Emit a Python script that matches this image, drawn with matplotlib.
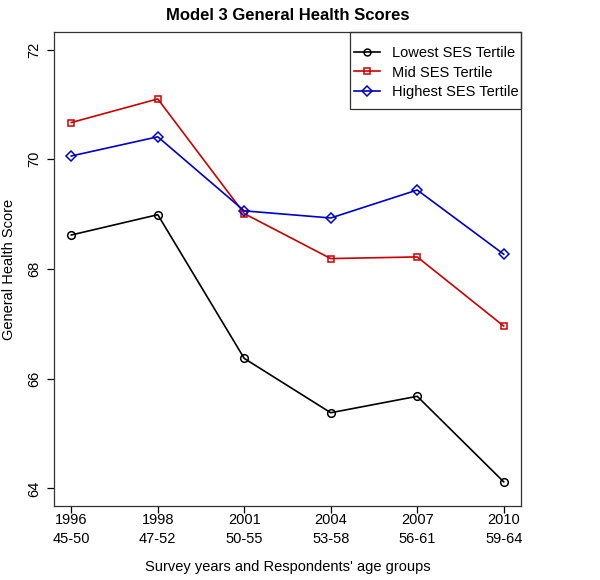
import matplotlib.pyplot as plt
from matplotlib.patches import Rectangle

plt.rcParams['font.family'] = ['Liberation Sans', 'DejaVu Sans']

# survey waves (years and respondents' ages)
years = ['1996', '1998', '2001', '2004', '2007', '2010']
ages = ['45-50', '47-52', '50-55', '53-58', '56-61', '59-64']

# model 3 general health scores by SES tertile
lowest = [68.62, 68.99, 66.37, 65.38, 65.68, 64.12]
mid = [70.67, 71.10, 69.01, 68.19, 68.22, 66.96]
highest = [70.06, 70.41, 69.06, 68.93, 69.44, 68.27]

x = list(range(1, len(years) + 1))

W, H = 600, 580
fig = plt.figure(figsize=(W / 100, H / 100), dpi=100)
ax = fig.add_axes([54 / W, 1 - 506 / H, (521 - 54) / W, (506 - 32) / H])

ax.plot(x, lowest, color='black', lw=1.2, marker='o', ms=5.5, mfc='none',
        mew=1.1, label='Lowest SES Tertile')
ax.plot(x, mid, color='#CD0000', lw=1.2, marker='s', ms=5, mfc='none',
        mew=1.1, label='Mid SES Tertile')
ax.plot(x, highest, color='#0000CD', lw=1.2, marker='D', ms=5.2, mfc='none',
        mew=1.1, label='Highest SES Tertile')

ax.set_xlim(0.8, 6.2)
ax.set_ylim(63.68, 72.32)
ax.set_xticks(x)
ax.set_xticklabels([y + '\n' + a for y, a in zip(years, ages)], fontsize=10.5,
                   linespacing=1.45)
ax.set_yticks([64, 66, 68, 70, 72])
ax.set_yticklabels(['64', '66', '68', '70', '72'], rotation=90, va='center',
                   fontsize=10.5)
ax.tick_params(direction='out', length=5, width=0.9, colors='black')
ax.tick_params(axis='x', pad=0)
ax.tick_params(axis='y', pad=4)

for s in ax.spines.values():
    s.set_linewidth(0.9)
    s.set_color('#333333')

ax.set_title('Model 3 General Health Scores', fontsize=12, fontweight='bold',
             pad=9)
ax.set_ylabel('General Health Score', fontsize=10.5, labelpad=8)
ax.set_xlabel("Survey years and Respondents' age groups", fontsize=10.5,
              labelpad=10)

# legend entries without frame, box drawn separately (R-style tight box)
leg = ax.legend(loc='center left', bbox_to_anchor=(354 / W, 1 - 72.5 / H),
                bbox_transform=fig.transFigure, frameon=False, borderpad=0,
                borderaxespad=0, fontsize=10.5, handlelength=1.8,
                handletextpad=0.8, labelspacing=0.38, markerscale=0.9)
fig.patches.append(Rectangle((350 / W, 1 - 109 / H), (521 - 350) / W,
                             (109 - 32) / H, transform=fig.transFigure,
                             fill=False, lw=0.9, ec='#333333', zorder=5))

fig.savefig('out.png', dpi=100)
